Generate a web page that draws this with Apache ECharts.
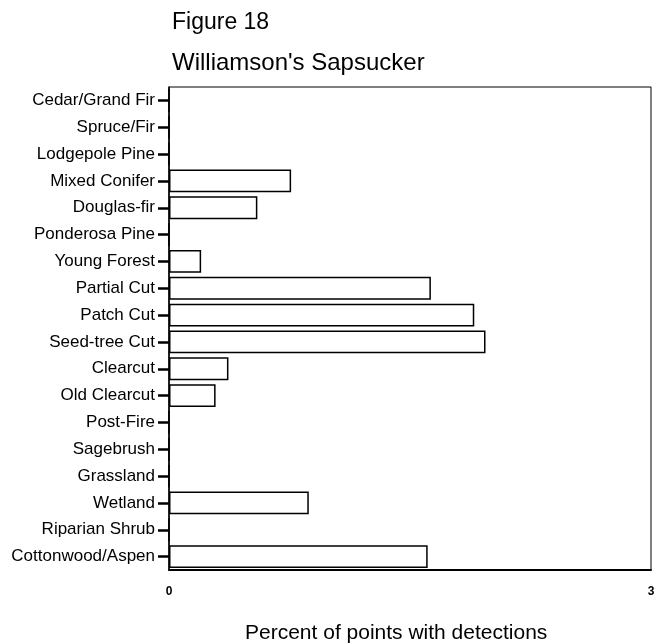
<!DOCTYPE html>
<html>
<head>
<meta charset="utf-8">
<script src="https://cdn.jsdelivr.net/npm/echarts@6/dist/echarts.min.js"></script>
<style>
html,body{margin:0;padding:0;background:#fff;}
#chart{width:663px;height:644px;}
</style>
</head>
<body>
<div id="chart"></div>
<script>
const categories = ["Cedar/Grand Fir","Spruce/Fir","Lodgepole Pine","Mixed Conifer","Douglas-fir","Ponderosa Pine","Young Forest","Partial Cut","Patch Cut","Seed-tree Cut","Clearcut","Old Clearcut","Post-Fire","Sagebrush","Grassland","Wetland","Riparian Shrub","Cottonwood/Aspen"];
const values = [0,0,0,0.76,0.55,0,0.20,1.63,1.90,1.97,0.37,0.29,0,0,0,0.87,0,1.61];
const xTicks = [0,3];
const figTitle = "Figure 18";
const subTitle = "Williamson's Sapsucker";
const xTitle = "Percent of points with detections";

const FONT = "'Liberation Sans', Arial, sans-serif";
const chart = echarts.init(document.getElementById('chart'), null, {renderer:'canvas'});
chart.setOption({
  animation:false,
  backgroundColor:'#fff',
  title:[
    {text:figTitle, left:167, top:6, textStyle:{fontFamily:FONT,fontWeight:'normal',fontSize:23,color:'#000'}},
    {text:subTitle, left:167, top:46, textStyle:{fontFamily:FONT,fontWeight:'normal',fontSize:24,color:'#000'}},
    {text:xTitle, left:240, top:618, textStyle:{fontFamily:FONT,fontWeight:'normal',fontSize:21,color:'#000'}}
  ],
  grid:{left:169, right:12, top:87, bottom:74, show:true, borderColor:'#000', borderWidth:1, backgroundColor:'transparent', containLabel:false},
  xAxis:{
    type:'value', min:xTicks[0], max:xTicks[xTicks.length-1], interval:3,
    axisLine:{show:true, lineStyle:{color:'#000', width:2}},
    axisTick:{show:false},
    splitLine:{show:false},
    axisLabel:{show:true, margin:16, fontFamily:FONT, fontSize:12, color:'#000', fontWeight:'bold',
      formatter:function(v){return xTicks.indexOf(v)>=0 ? String(v) : '';}}
  },
  yAxis:{
    type:'category', data:categories, inverse:true,
    axisLine:{show:true, lineStyle:{color:'#000', width:1.5}},
    axisTick:{show:true, alignWithLabel:true, length:11, lineStyle:{color:'#000', width:2.5}},
    axisLabel:{fontFamily:FONT, fontSize:17, color:'#000', margin:14},
    splitLine:{show:false}
  },
  series:[{
    type:'bar', data:values, barCategoryGap:'15%',
    itemStyle:{color:'#fff', borderColor:'#000', borderWidth:1.5}
  }]
});
</script>
</body>
</html>
